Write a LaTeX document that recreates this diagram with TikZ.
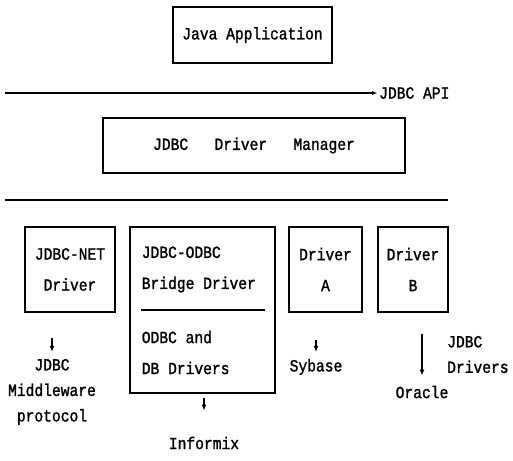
\documentclass[tikz,border=0pt]{standalone}
\usepackage{fontspec}
\usetikzlibrary{arrows.meta}
\newfontfamily\drvfont[FakeStretch=0.86,FakeBold=1.4]{Liberation Mono}

\tikzset{
  box/.style={draw, line width=1.6pt, inner sep=0pt, align=center,
    font=\drvfont\fontsize{17}{31}\selectfont},
  lbl/.style={inner sep=1pt, align=center,
    font=\drvfont\fontsize{17}{25.5}\selectfont},
  arr/.style={-{Latex[length=6pt,width=5pt]}, line width=1.6pt},
}

\begin{document}
\begin{tikzpicture}[x=1pt,y=-1pt]
    \useasboundingbox (0,0) rectangle (513,460);

    \node[box, minimum width=159pt, minimum height=56pt] (app) at (252.5,35) {Java Application};

    % API line
    \coordinate (apiL) at (5,93);
    \node[lbl, anchor=west] (api) at (378,93) {JDBC API};
    \draw[line width=1.6pt, -{Latex[length=6pt,width=4pt]}] (apiL) -- (api.west);

    \node[box, minimum width=302pt, minimum height=55pt] (dm) at (254,145.5) {JDBC\ \ \ Driver\ \ \ Manager};

    \coordinate (sepL) at (5,200);
    \coordinate (sepR) at (448,200);
    \draw[line width=1.6pt] (sepL) -- (sepR);

    % drivers
    \node[box, minimum width=90pt, minimum height=85pt] (net) at (70,269.5) {JDBC-NET\\Driver};
    \node[box, minimum width=145pt, minimum height=166pt] (odbc) at (202.5,310) {};
    \node[box, minimum width=73pt, minimum height=85pt] (drva) at (325.5,269.5) {Driver\\A};
    \node[box, minimum width=70pt, minimum height=85pt] (drvb) at (413,269.5) {Driver\\B};

    \node[box, draw=none, align=left, anchor=west] (brg) at (141,269.5) {JDBC-ODBC\\Bridge Driver};
    \draw[line width=1.6pt] (141,310) -- (265,310);
    \node[box, draw=none, align=left, anchor=west] (odb) at (141,352.5) {ODBC and\\DB Drivers};

    % databases
    \node[lbl] (mw) at (52,392) {JDBC\\Middleware\\protocol};
    \node[lbl] (inf) at (204,443) {Informix};
    \node[lbl] (syb) at (316,367) {Sybase};
    \node[lbl] (ora) at (422,392) {Oracle};
    \node[lbl, anchor=west, align=left] (jdrv) at (446,354.5) {JDBC\\Drivers};

    \draw[arr] ([yshift=20pt]mw.north) -- ([yshift=6pt]mw.north);
    \draw[arr] ([yshift=38pt]inf.north) -- ([yshift=25pt]inf.north);
    \draw[arr] ([yshift=18pt]syb.north) -- ([yshift=6pt]syb.north);
    \draw[arr, line width=2.2pt] ([yshift=51pt]ora.north) -- ([yshift=9pt]ora.north);
\end{tikzpicture}
\end{document}
